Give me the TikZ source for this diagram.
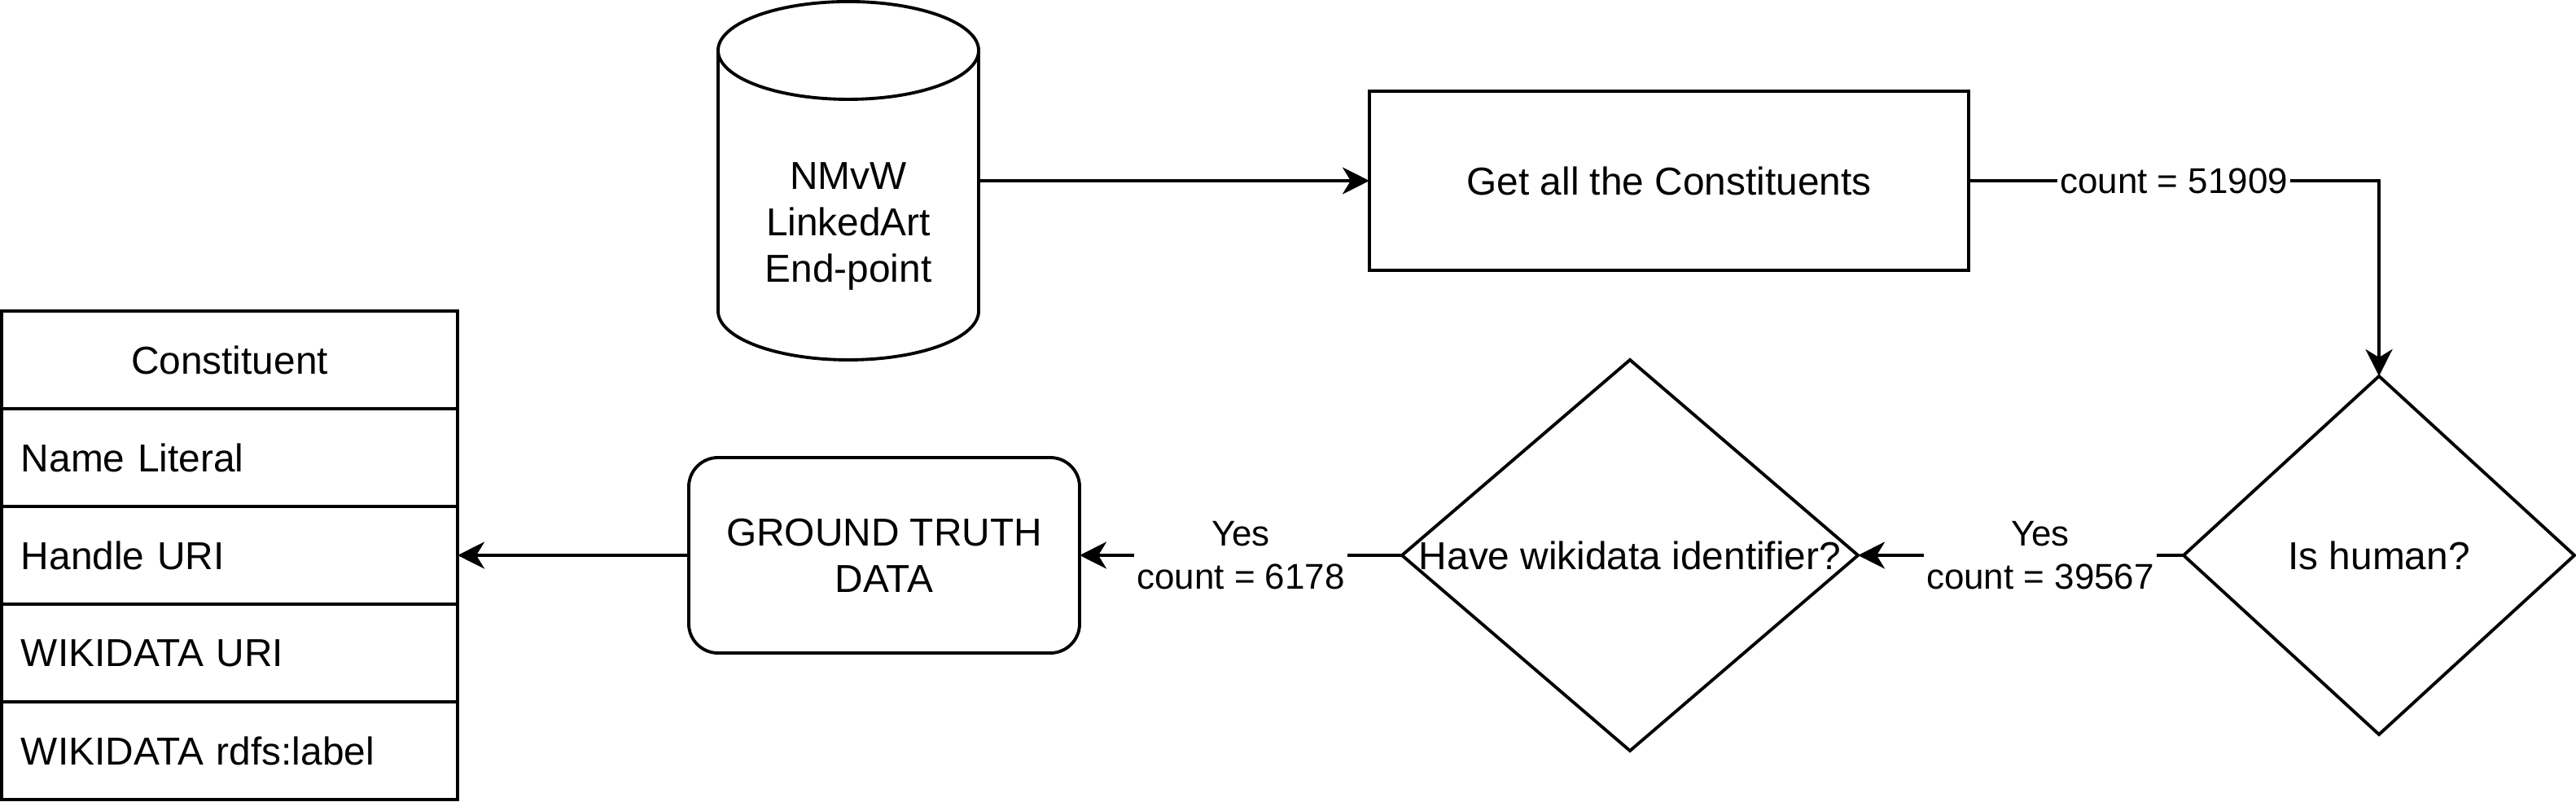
\documentclass[tikz,border=0pt]{standalone}
\usepackage{fontspec}
\setmainfont{Liberation Sans}
\usepackage{tikz}
\usetikzlibrary{arrows.meta}
\usetikzlibrary{shapes.geometric}

\begin{document}
\begin{tikzpicture}[x=0.04cm, y=-0.04cm, line width=1.1pt,
	font=\fontsize{13.6}{16.3}\selectfont,
	box/.style={draw, rectangle, inner sep=0pt, outer sep=0pt, align=center},
	decision/.style={draw, diamond, inner sep=0pt, outer sep=0pt},
	cell/.style={draw, rectangle, minimum height=1.2cm, text width=5.12cm,
		inner xsep=0.24cm, inner ysep=0pt, outer sep=0pt, align=left},
	lbl/.style={fill=white, inner sep=1pt, align=center,
		font=\fontsize{12.5}{15}\selectfont}]
	\useasboundingbox (0,0) rectangle (791,246);

	% the end-point
	\node[minimum width=3.2cm, minimum height=4.4cm, inner sep=0pt, outer sep=0pt] (db) at (260.5,55.5) {};
	\draw (db.north west) ++(0,15) -- ++(0,80)
		arc[start angle=180, end angle=360, x radius=1.6cm, y radius=0.6cm] -- ++(0,-80);
	\draw (db.north) ++(0,15) ellipse [x radius=1.6cm, y radius=0.6cm];
	\node[align=center] (dbtext) at (260.5,69.5) {NMvW\\LinkedArt\\End-point};

	\begin{scope}
		\node[box, minimum width=7.36cm, minimum height=2.2cm] (ga) at (512.5,55.5) {Get all the Constituents};
		\node[decision, minimum width=4.8cm, minimum height=4.4cm, label=center:{Is human?}] (ih) at (730.5,170.5) {};
		\node[decision, minimum width=5.6cm, minimum height=4.8cm, label=center:{Have wikidata identifier?}] (hw) at (500.5,170.5) {};
		\node[box, rounded corners=0.36cm, minimum width=4.8cm, minimum height=2.4cm] (gt) at (271.5,170.5) {GROUND TRUTH\\DATA};
	\end{scope}

	% the table
	\begin{scope}[every node/.style={cell}]
		\node[align=center] (c0) at (70.5,110.5) {Constituent};
		\node (c1) at (70.5,140.5) {Name Literal};
		\node (c2) at (70.5,170.5) {Handle URI};
		\node (c3) at (70.5,200.5) {WIKIDATA URI};
		\node (c4) at (70.5,230.5) {WIKIDATA rdfs:label};
	\end{scope}

	\begin{scope}[>={Stealth[length=3.3mm, width=3.3mm, inset=1mm]},
	              every edge/.style={draw=black}]
		\path (db) edge[->] (ga);
		\draw[->] (ga.east) -| node[lbl, pos=0.25] {count = 51909} (ih.north);
		\path (ih) edge[->] node[lbl, pos=0.44] {Yes\\count = 39567} (hw);
		\path (hw) edge[->] node[lbl, pos=0.5] {Yes\\count = 6178} (gt);
		\path (gt) edge[->] (c2);
	\end{scope}
\end{tikzpicture}
\end{document}
